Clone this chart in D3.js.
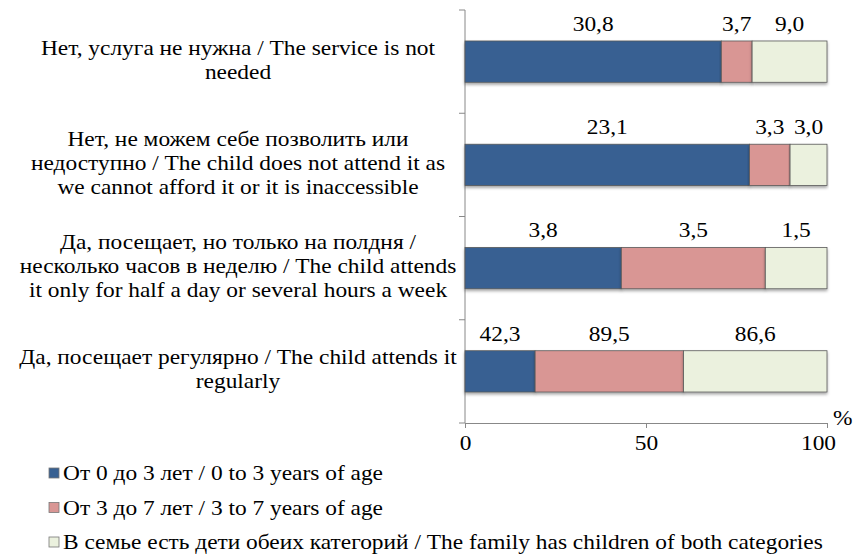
<!DOCTYPE html>
<html>
<head>
<meta charset="utf-8">
<script src="https://cdn.jsdelivr.net/npm/d3@7"></script>
<style>
  body { margin: 0; background: #fff; }
  svg text { font-family: "Liberation Serif", "Times New Roman", Tinos, "DejaVu Serif", serif; fill: #000; }
</style>
</head>
<body>
<div id="chart"></div>
<script>
const width = 857
const height = 554
const margin = {top: 10, left: 465}
const fontSize = 20
const sx = 1.17   // the picture's text is wider than it is tall

// categories, top to bottom (line breaks as in the picture)
const categories = [
    ["Нет, услуга не нужна / The service is not", "needed"],
    ["Нет, не можем себе позволить или", "недоступно / The child does not attend it as", "we cannot afford it or it is inaccessible"],
    ["Да, посещает, но только на полдня /", "несколько часов в неделю / The child attends", "it only for half a day or several hours a week"],
    ["Да, посещает регулярно / The child attends it", "regularly"]
]
const seriesNames = [
    "От 0 до 3 лет / 0 to 3 years of age",
    "От 3 до 7 лет / 3 to 7 years of age",
    "В семье есть дети обеих категорий / The family has children of both categories"
]
const age0to3 = [30.8, 23.1, 3.8, 42.3]
const age3to7 = [3.7, 3.3, 3.5, 89.5]
const bothAges = [9.0, 3.0, 1.5, 86.6]
const xTicks = [0, 50, 100]
const colors = ["#376092", "#D99694", "#EBF1DE"]

const keys = ["a", "b", "c"]
const rows = categories.map((c, i) => ({cat: c.join(" "), lines: c, a: age0to3[i], b: age3to7[i], c: bothAges[i]}))
const stacked = d3.stack().keys(keys).offset(d3.stackOffsetExpand)(rows)

const svg = d3.select("#chart").append("svg").attr("width", width).attr("height", height)
const defs = svg.append("defs")
const shadow = defs.append("filter").attr("id", "shadow").attr("x", "-5%").attr("y", "-20%").attr("width", "110%").attr("height", "150%")
shadow.append("feDropShadow").attr("dx", 0).attr("dy", 2).attr("stdDeviation", 1.5).attr("flood-color", "#000").attr("flood-opacity", 0.35)

const g = svg.append("g").attr("transform", `translate(${margin.left}, ${margin.top})`)

const x = d3.scaleLinear().domain([0, 100]).range([0, 362])
const y = d3.scaleBand().domain(rows.map(d => d.cat)).range([0, 413]).paddingInner(0.6).paddingOuter(0.3)

// text placed at (tx, ty) and widened horizontally
function wideText(parent, tx, ty) {
    return parent.append("text")
        .attr("transform", `translate(${tx}, ${ty}) scale(${sx}, 1)`)
        .attr("font-size", fontSize)
}

// x axis
const xAxisGroup = g.append("g").attr("transform", `translate(0, ${y.range()[1]})`)
    .call(d3.axisBottom(x).tickValues(xTicks).tickSize(5).tickPadding(8))
xAxisGroup.attr("font-family", null)
xAxisGroup.select(".domain").attr("stroke", "#888")
xAxisGroup.selectAll(".tick line").attr("stroke", "#888")
xAxisGroup.selectAll(".tick text").attr("font-size", fontSize)
    .attr("transform", d => `translate(${d === 100 ? -9 : 0}, 0) scale(${sx}, 1)`)

wideText(svg, margin.left + x(100) + 6, margin.top + y.range()[1] + 2).text("%")

// y axis with ticks at band boundaries
const bounds = rows.map(d => y(d.cat) - y.step() * y.paddingOuter()).concat([y.range()[1]])
g.append("line").attr("x1", 0).attr("x2", 0).attr("y1", 0).attr("y2", y.range()[1]).attr("stroke", "#888")
g.selectAll(".ytick").data(bounds).enter().append("line").attr("class", "ytick")
    .attr("x1", -6).attr("x2", 0).attr("y1", d => d).attr("y2", d => d).attr("stroke", "#888")

// bars
const layers = g.selectAll(".layer").data(stacked).enter().append("g")
    .attr("class", "layer").attr("fill", (d, i) => colors[i])
layers.selectAll("rect").data(d => d).enter().append("rect")
    .attr("x", d => x(d[0] * 100))
    .attr("y", d => y(d.data.cat))
    .attr("width", d => x(d[1] * 100) - x(d[0] * 100))
    .attr("height", y.bandwidth())
    .attr("stroke", "#595959").attr("stroke-width", 0.8)
    .attr("filter", "url(#shadow)")

// value labels above each segment
const fmt = d3.formatLocale({decimal: ",", thousands: " ", grouping: [3], currency: ["", ""]}).format(".1f")
stacked.forEach(layer => {
    layer.forEach(d => {
        wideText(g, x((d[0] + d[1]) * 50), y(d.data.cat) - 10)
            .attr("text-anchor", "middle")
            .text(fmt(d.data[layer.key]))
    })
})

// category labels
const labelX = 238
rows.forEach(r => {
    const cy = margin.top + y(r.cat) + y.bandwidth() / 2 - 2
    const n = r.lines.length
    const t = wideText(svg, labelX, 0).attr("text-anchor", "middle")
    r.lines.forEach((line, i) => {
        t.append("tspan").attr("x", 0)
            .attr("y", cy + (i - (n - 1) / 2) * 24 + 7)
            .text(line)
    })
})

// legend
const legend = svg.append("g").attr("transform", "translate(49, 473)")
seriesNames.forEach((name, i) => {
    const row = legend.append("g").attr("transform", `translate(0, ${i * 34.5})`)
    row.append("rect").attr("x", 0).attr("y", -5).attr("width", 10).attr("height", 10)
        .attr("fill", colors[i]).attr("stroke", "#777").attr("stroke-width", 0.8)
    wideText(row, 14, 7).text(name)
})
</script>
</body>
</html>
